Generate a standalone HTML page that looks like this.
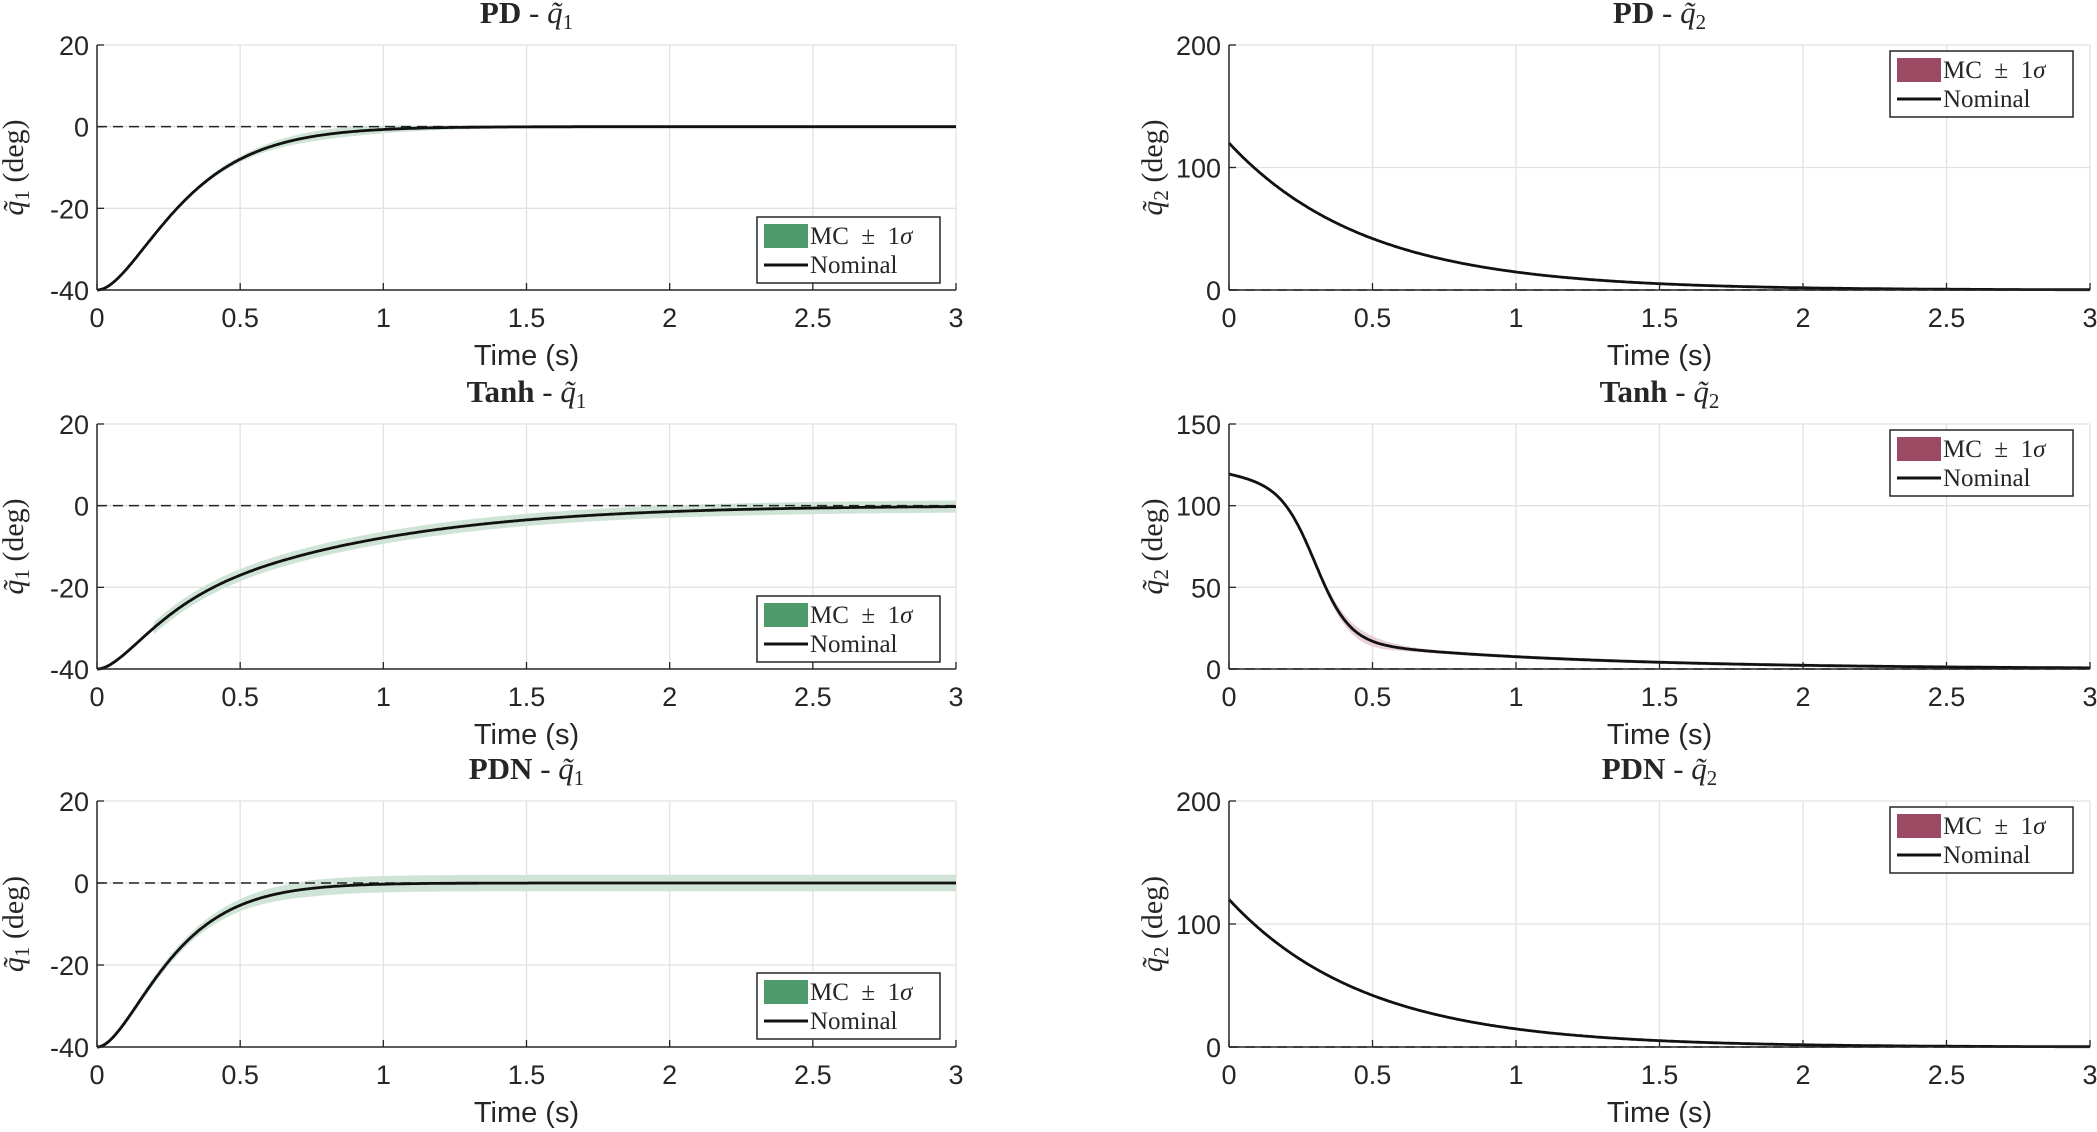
<!DOCTYPE html>
<html><head><meta charset="utf-8"><style>
body{margin:0;background:#fff}
svg{display:block}
text{font-family:"Liberation Sans",sans-serif;fill:#262626}
.s{font-family:"Liberation Serif",serif}
</style></head><body>
<svg id="c" width="2097" height="1132" xmlns="http://www.w3.org/2000/svg"></svg>
<script>
const svg=document.getElementById('c');let h='';
function plot(o){
  const {x0,x1,y0,y1,ymin,ymax,yt,f,band,bc,lc,title,sub,right}=o;
  const X=t=>x0+(x1-x0)*t/3, Y=v=>y1-(y1-y0)*(v-ymin)/(ymax-ymin);
  for(let t=0.5;t<=3;t+=0.5)h+=`<line x1="${X(t)}" y1="${y0}" x2="${X(t)}" y2="${y1}" stroke="#e2e2e2" stroke-width="1.3"/>`;
  yt.forEach(v=>h+=`<line x1="${x0}" y1="${Y(v)}" x2="${x1}" y2="${Y(v)}" stroke="#e2e2e2" stroke-width="1.3"/>`);
  h+=`<line x1="${x0}" y1="${y0}" x2="${x1}" y2="${y0}" stroke="#e6e6e6" stroke-width="1.3"/>`;
  const s=[];for(let i=0;i<=600;i++){const t=i/200;s.push([t,f(t)]);}
  const up=s.map(p=>[X(p[0]),Y(p[1]+band(p[0]))]), dn=s.map(p=>[X(p[0]),Y(p[1]-band(p[0]))]).reverse();
  h+=`<polygon points="${up.concat(dn).map(p=>p[0].toFixed(1)+','+p[1].toFixed(1)).join(' ')}" fill="${bc}"/>`;
  h+=`<line x1="${x0}" y1="${Y(0)}" x2="${x1}" y2="${Y(0)}" stroke="#222" stroke-width="1.5" stroke-dasharray="10,6"/>`;
  h+=`<polyline points="${s.map(p=>X(p[0]).toFixed(1)+','+Y(p[1]).toFixed(1)).join(' ')}" fill="none" stroke="#111" stroke-width="2.8" stroke-linejoin="round"/>`;
  h+=`<line x1="${x0}" y1="${y0}" x2="${x0}" y2="${y1}" stroke="#262626" stroke-width="1.5"/><line x1="${x0}" y1="${y1}" x2="${x1}" y2="${y1}" stroke="#262626" stroke-width="1.5"/>`;
  for(let t=0;t<=3;t+=0.5){h+=`<line x1="${X(t)}" y1="${y1}" x2="${X(t)}" y2="${y1-7}" stroke="#262626" stroke-width="1.3"/>`;
    h+=`<text x="${X(t)}" y="${y1+37}" font-size="27" text-anchor="middle">${t}</text>`;}
  yt.concat([ymin]).forEach(v=>{h+=`<line x1="${x0}" y1="${Y(v)}" x2="${x0+7}" y2="${Y(v)}" stroke="#262626" stroke-width="1.3"/>`;
    h+=`<text x="${x0-8}" y="${Y(v)+10}" font-size="27" text-anchor="end">${v}</text>`;});
  const cx=(x0+x1)/2;
  h+=`<text x="${cx}" y="${y1+75}" font-size="29" text-anchor="middle">Time (s)</text>`;
  h+=`<text class="s" x="${cx}" y="${y0-22}" font-size="31" text-anchor="middle"><tspan font-weight="bold">${title}</tspan> - <tspan font-style="italic">q̃</tspan><tspan font-size="21" dy="6">${sub}</tspan></text>`;
  const lx=x0-(right?67:74), ly=(y0+y1)/2;
  h+=`<text class="s" transform="translate(${lx},${ly}) rotate(-90)" font-size="30" text-anchor="middle"><tspan font-style="italic">q̃</tspan><tspan font-size="21" dy="6">${sub}</tspan><tspan dy="-6">  (deg)</tspan></text>`;
  const L=o.leg;
  h+=`<rect x="${L[0]}" y="${L[1]}" width="183" height="66" fill="#fff" stroke="#262626" stroke-width="1.5"/>`;
  h+=`<rect x="${L[0]+7}" y="${L[1]+7}" width="44" height="24" fill="${lc}"/>`;
  h+=`<line x1="${L[0]+7}" y1="${L[1]+48}" x2="${L[0]+51}" y2="${L[1]+48}" stroke="#111" stroke-width="3"/>`;
  h+=`<text class="s" x="${L[0]+53}" y="${L[1]+27}" font-size="25" xml:space="preserve">MC  ±  1<tspan font-style="italic">σ</tspan></text>`;
  h+=`<text class="s" x="${L[0]+53}" y="${L[1]+56}" font-size="25">Nominal</text>`;
}
const G='#cfe4d6',P='#ead0da',LG='#4f9a6b',LP='#9c4a64';
const rows=[[45,290],[424,669],[801,1047]];
const pdq1=t=>-40*(1+6*t)*Math.exp(-6*t);
const nq1=t=>-40*(1+7*t)*Math.exp(-7*t);
const tq1=t=>-40*(0.45*(1+8*t)*Math.exp(-8*t)+0.55*(1+2.2*t)*Math.exp(-2.2*t));
const pq2=t=>120*Math.exp(-2.1*t);
const tq2=t=>95/(1+Math.exp((t-0.3)/0.06))+25*Math.exp(-1.2*t);
const L1=[757,217],R1=[1890,51];
const cfgL=[['PD',pdq1,t=>0.4+0.8*Math.exp(-((t-0.8)**2)/0.1)],['Tanh',tq1,t=>t<0.2?0.5:1.5],['PDN',nq1,t=>Math.min(2,0.5+t*2)]];
const cfgR=[['PD',pq2,t=>0.8,[0,200],[0,100,200]],['Tanh',tq2,t=>1+2.5*Math.exp(-((t-0.45)**2)/0.02),[0,150],[0,50,100,150]],['PDN',pq2,t=>0.8,[0,200],[0,100,200]]];
rows.forEach((r,i)=>{
  const dy=r[0]-45;
  plot({x0:97,x1:956,y0:r[0],y1:r[1],ymin:-40,ymax:20,yt:[-20,0,20],f:cfgL[i][1],band:cfgL[i][2],bc:G,lc:LG,title:cfgL[i][0],sub:'1',leg:[L1[0],L1[1]+dy]});
  const c=cfgR[i];
  plot({x0:1229,x1:2090,y0:r[0],y1:r[1],ymin:c[3][0],ymax:c[3][1],yt:c[4].slice(1),f:c[1],band:c[2],bc:P,lc:LP,title:c[0],sub:'2',right:1,leg:[R1[0],R1[1]+dy]});
});
svg.innerHTML=h;
</script>
</body></html>
